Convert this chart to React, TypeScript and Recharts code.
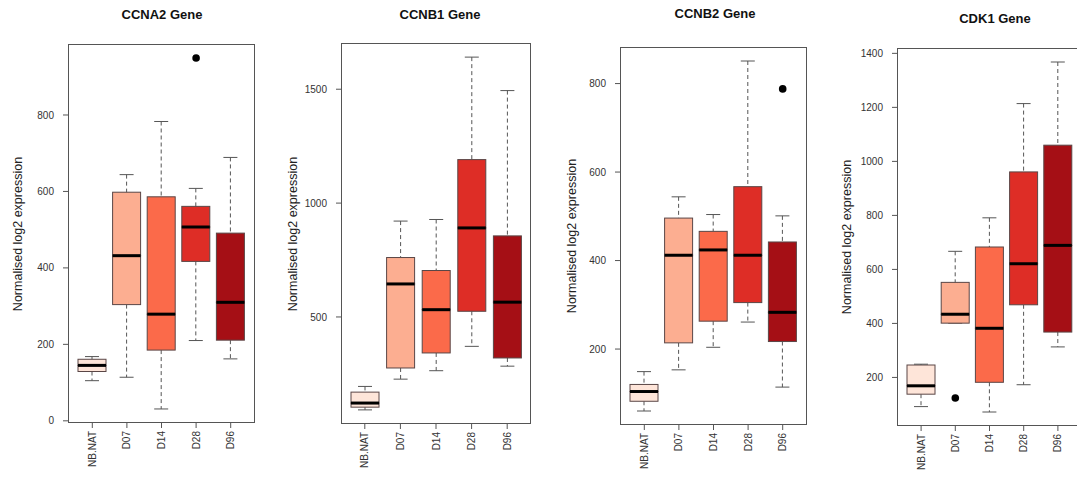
import React from "react";
import { ComposedChart, Bar, Scatter, XAxis, YAxis } from "recharts";

const GROUPS = ["NB.NAT", "D07", "D14", "D28", "D96"];
const FILLS = ["#FEE5D9", "#FCAE91", "#FB6A4A", "#DE2D26", "#A50F15"];

// per group: [lower whisker, Q1, median, Q3, upper whisker]
const CCNA2_STATS = [
  [105, 129, 145, 161, 168],
  [114, 304, 432, 598, 644],
  [31, 185, 279, 586, 783],
  [210, 417, 507, 561, 608],
  [162, 211, 310, 491, 689],
];
const CCNA2_OUT = [null, null, null, 949, null];
const CCNA2_TICKS = [0, 200, 400, 600, 800];

const CCNB1_STATS = [
  [92, 104, 122, 170, 195],
  [227, 276, 645, 761, 921],
  [264, 342, 532, 704, 928],
  [371, 525, 891, 1191, 1641],
  [284, 320, 565, 856, 1494],
];
const CCNB1_OUT = [null, null, null, null, null];
const CCNB1_TICKS = [500, 1000, 1500];

const CCNB2_STATS = [
  [60, 82, 104, 120, 149],
  [153, 214, 412, 496, 544],
  [204, 263, 424, 466, 504],
  [261, 305, 412, 567, 851],
  [114, 217, 283, 442, 501],
];
const CCNB2_OUT = [null, null, null, null, 788];
const CCNB2_TICKS = [200, 400, 600, 800];

const CDK1_STATS = [
  [92, 138, 169, 246, 249],
  [401, 401, 434, 552, 667],
  [72, 182, 382, 683, 791],
  [173, 469, 621, 961, 1214],
  [313, 368, 689, 1060, 1368],
];
const CDK1_OUT = [null, 124, null, null, null];
const CDK1_TICKS = [200, 400, 600, 800, 1000, 1200, 1400];

const LINE = "#555";
const FONT = "'Liberation Sans', Arial, sans-serif";

type Stats = number[][];
type Outs = (number | null)[];

function toRows(stats: Stats, outs: Outs) {
  return GROUPS.map((g, i) => {
    const s = stats[i];
    return {
      name: g,
      base: s[0],
      lw: s[1] - s[0],
      lb: s[2] - s[1],
      hb: s[3] - s[2],
      hw: s[4] - s[3],
      out: outs[i],
    };
  });
}

// R boxplot pads the range by 4% each side
function rDomain(stats: Stats, outs: Outs): [number, number] {
  const vals = [...stats.flat(), ...(outs.filter((v) => v != null) as number[])];
  const lo = Math.min(...vals);
  const hi = Math.max(...vals);
  const pad = (hi - lo) * 0.04;
  return [lo - pad, hi + pad];
}

const LowWhisker = (p: any) => {
  const { x, y, width, height } = p;
  const cx = x + width / 2;
  return (
    <g>
      <line x1={cx} x2={cx} y1={y} y2={y + height} stroke={LINE} strokeDasharray="4 3" />
      <line x1={cx - width / 4} x2={cx + width / 4} y1={y + height} y2={y + height} stroke={LINE} />
    </g>
  );
};

const HighWhisker = (p: any) => {
  const { x, y, width, height } = p;
  const cx = x + width / 2;
  return (
    <g>
      <line x1={cx} x2={cx} y1={y} y2={y + height} stroke={LINE} strokeDasharray="4 3" />
      <line x1={cx - width / 4} x2={cx + width / 4} y1={y} y2={y} stroke={LINE} />
    </g>
  );
};

const LowBox = (p: any) => {
  const { x, y, width, height, index } = p;
  return <rect x={x} y={y} width={width} height={height} fill={FILLS[index]} stroke="#5a4646" />;
};

const HighBox = (p: any) => {
  const { x, y, width, height, index } = p;
  return (
    <g>
      <rect x={x} y={y} width={width} height={height} fill={FILLS[index]} stroke="#5a4646" />
      <line x1={x} x2={x + width} y1={y + height} y2={y + height} stroke="#000" strokeWidth={3} />
    </g>
  );
};

const Outlier = (p: any) => {
  if (p.payload?.out == null || p.cy == null || isNaN(p.cy)) return <g />;
  return <circle cx={p.cx} cy={p.cy} r={3.8} fill="#000" />;
};

const XTick = (p: any) => {
  const { x, y, payload } = p;
  return (
    <text
      x={x}
      y={y}
      transform={`rotate(-90 ${x} ${y})`}
      textAnchor="end"
      dominantBaseline="central"
      fontSize={10}
      fill="#333"
      fontFamily={FONT}
    >
      {payload.value}
    </text>
  );
};

type PanelProps = {
  title: string;
  stats: Stats;
  outs: Outs;
  ticks: number[];
  left: number;
  right: number;
  top: number;
  bottom: number;
  padL: number;
  padR: number;
  titleX: number;
  titleY: number;
  labelX: number;
  labelY: number;
};

function GenePanel(pp: PanelProps) {
  const data = toRows(pp.stats, pp.outs);
  const AXW = 68;
  const XH = 50;
  const plotW = pp.right - pp.left;
  const chartW = AXW + plotW + 10;
  return (
    <>
      <div
        style={{
          position: "absolute",
          left: pp.titleX - 80,
          width: 160,
          top: pp.titleY - 9,
          textAlign: "center",
          fontFamily: FONT,
          fontWeight: "bold",
          fontSize: 13,
          lineHeight: "18px",
          color: "#111",
        }}
      >
        {pp.title}
      </div>
      <div
        style={{
          position: "absolute",
          left: pp.labelX - 100,
          top: pp.labelY - 9,
          width: 200,
          textAlign: "center",
          transform: "rotate(-90deg)",
          fontFamily: FONT,
          fontSize: 12.5,
          lineHeight: "18px",
          color: "#222",
          whiteSpace: "nowrap",
        }}
      >
        Normalised log2 expression
      </div>
      <div style={{ position: "absolute", left: pp.left - AXW, top: 0 }}>
        <ComposedChart
          width={chartW}
          height={486}
          data={data}
          margin={{ top: pp.top, right: 10, bottom: 486 - pp.bottom - XH, left: 0 }}
        >
          <XAxis
            dataKey="name"
            type="category"
            interval={0}
            height={XH}
            padding={{ left: pp.padL, right: pp.padR }}
            axisLine={false}
            tickLine={{ stroke: LINE }}
            tickSize={5}
            tickMargin={3}
            tick={<XTick />}
          />
          <YAxis
            type="number"
            width={AXW}
            domain={rDomain(pp.stats, pp.outs)}
            ticks={pp.ticks}
            allowDataOverflow
            axisLine={false}
            tickLine={{ stroke: LINE }}
            tickSize={5}
            tickMargin={9}
            tick={{ fontSize: 10, fill: "#333", fontFamily: FONT }}
          />
          <Bar dataKey="base" stackId="b" barSize={28} fill="none" isAnimationActive={false} />
          <Bar dataKey="lw" stackId="b" barSize={28} shape={LowWhisker} isAnimationActive={false} />
          <Bar dataKey="lb" stackId="b" barSize={28} shape={LowBox} isAnimationActive={false} />
          <Bar dataKey="hb" stackId="b" barSize={28} shape={HighBox} isAnimationActive={false} />
          <Bar dataKey="hw" stackId="b" barSize={28} shape={HighWhisker} isAnimationActive={false} />
          <Scatter dataKey="out" shape={Outlier} isAnimationActive={false} />
        </ComposedChart>
      </div>
      <div
        style={{
          position: "absolute",
          left: pp.left,
          top: pp.top,
          width: plotW,
          height: pp.bottom - pp.top,
          border: `1px solid ${LINE}`,
          boxSizing: "border-box",
          pointerEvents: "none",
        }}
      />
    </>
  );
}

export default function App() {
  return (
    <div
      style={{
        position: "absolute",
        left: 0,
        top: 0,
        width: 1077,
        height: 486,
        overflow: "hidden",
        background: "#fff",
      }}
    >
      <GenePanel
        title="CCNA2 Gene"
        stats={CCNA2_STATS}
        outs={CCNA2_OUT}
        ticks={CCNA2_TICKS}
        left={68}
        right={255}
        top={44}
        bottom={423}
        padL={7}
        padR={7}
        titleX={162}
        titleY={15}
        labelX={18}
        labelY={234}
      />
      <GenePanel
        title="CCNB1 Gene"
        stats={CCNB1_STATS}
        outs={CCNB1_OUT}
        ticks={CCNB1_TICKS}
        left={341}
        right={531}
        top={43}
        bottom={424}
        padL={6}
        padR={6}
        titleX={440}
        titleY={15}
        labelX={293}
        labelY={234}
      />
      <GenePanel
        title="CCNB2 Gene"
        stats={CCNB2_STATS}
        outs={CCNB2_OUT}
        ticks={CCNB2_TICKS}
        left={620}
        right={807}
        top={47}
        bottom={425}
        padL={7}
        padR={7}
        titleX={715}
        titleY={14}
        labelX={572}
        labelY={236}
      />
      <GenePanel
        title="CDK1 Gene"
        stats={CDK1_STATS}
        outs={CDK1_OUT}
        ticks={CDK1_TICKS}
        left={897}
        right={1084}
        top={48}
        bottom={426}
        padL={7}
        padR={9}
        titleX={995}
        titleY={19}
        labelX={847}
        labelY={237}
      />
    </div>
  );
}
